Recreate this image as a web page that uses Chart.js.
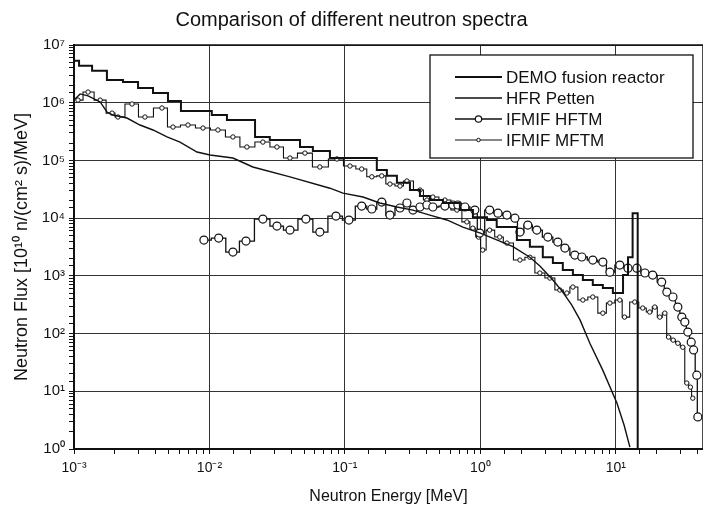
<!DOCTYPE html>
<html>
<head>
<meta charset="utf-8">
<title>Comparison of different neutron spectra</title>
<script src="https://cdn.jsdelivr.net/npm/chart.js@4.4.1/dist/chart.umd.min.js"></script>
<style>
  html, body { margin: 0; padding: 0; background: #fff; }
  #wrap { width: 703px; height: 508px; position: relative; }
</style>
</head>
<body>
<div id="wrap"><canvas id="spectraChart"></canvas></div>
<script>
// === Data (energy in MeV, flux in 10^10 n/(cm^2 s)/MeV) ===

// DEMO fusion reactor: histogram, value holds from this edge to the next one
const demoEnergy = [0.001, 0.00109, 0.00136, 0.00175, 0.0023, 0.00297, 0.00383, 0.00494, 0.00616, 0.0104,
  0.01346, 0.0217, 0.0279, 0.0466, 0.058, 0.0775, 0.172, 0.204, 0.242, 0.302,
  0.358, 0.424, 0.529, 0.706, 0.881, 1.12, 1.32, 1.86, 2.32, 2.89,
  3.43, 4.06, 4.82, 5.71, 6.76, 8.02, 9.51, 11.3, 12.3, 13.3, 14.5];
const demoFlux = [5.35e6, 4.38e6, 3.59e6, 2.47e6, 2.28e6, 1.8e6, 1.47e6, 1.07e6, 7.18e5, 6.12e5,
  5.01e5, 2.55e5, 2.26e5, 1.71e5, 1.46e5, 1.1e5, 6.8e4, 5.4e4, 4.1e4, 3.07e4,
  2.42e4, 2.06e4, 1.83e4, 1.38e4, 1.04e4, 9.3e3, 7.0e3, 4.2e3, 3.2e3, 2.1e3,
  1.67e3, 1.26e3, 1.03e3, 845, 693, 615, 504, 1.03e3, 2.1e3, 1.22e4, 1];

// HFR Petten: continuous curve
const hfrEnergy = [0.001, 0.00111, 0.00127, 0.00156, 0.00175, 0.00194, 0.00246, 0.00307, 0.00383, 0.00486,
  0.00606, 0.00809, 0.0101, 0.0149, 0.0209, 0.0393, 0.0775, 0.0967, 0.136, 0.181,
  0.242, 0.318, 0.424, 0.566, 0.743, 1.0, 1.32, 1.74, 2.32, 2.75,
  3.43, 4.06, 4.73, 5.45, 6.43, 8.02, 10.2, 11.5, 12.7];
const hfrFlux = [1.11e6, 1.42e6, 1.31e6, 1.03e6, 6.9e5, 6.12e5, 5.43e5, 4.11e5, 3.37e5, 2.55e5,
  2.08e5, 1.4e5, 1.24e5, 1.1e5, 7.7e4, 5.2e4, 3.3e4, 2.72e4, 2.32e4, 1.83e4,
  1.56e4, 1.38e4, 1.13e4, 9.3e3, 7.0e3, 5.5e3, 4.2e3, 3.2e3, 2.1e3, 1.48e3,
  845, 524, 312, 171, 68, 23, 6.2, 2.6, 1.08];

// IFMIF HFTM: bin centres
const hftmEnergy = [0.0091, 0.0117, 0.0149, 0.0186, 0.0248, 0.0315, 0.0393, 0.0515, 0.0653, 0.0859,
  0.107, 0.133, 0.158, 0.187, 0.215, 0.255, 0.287, 0.318, 0.358, 0.403,
  0.446, 0.547, 0.627, 0.682, 0.769, 0.91, 0.99, 1.17, 1.35, 1.57,
  1.8, 1.96, 2.24, 2.61, 3.15, 3.73, 4.21, 4.98, 5.61, 6.76,
  8.02, 9.04, 10.7, 12.3, 14.3, 16.4, 18.7, 21.8, 23.8, 26.4,
  28.7, 30.7, 32.3, 34.0, 36.0, 37.5, 39.6, 40.3];
const hftmFlux = [4170, 4520, 2580, 4010, 9640, 7300, 6220, 9640, 5740, 10860,
  9270, 16200, 14400, 19000, 11300, 15000, 18300, 13800, 15600, 16900,
  15600, 16200, 16900, 16900, 15600, 13800, 5520, 13800, 12200, 11300,
  10000, 5740, 7590, 6220, 4700, 3850, 3030, 2290, 2120, 1880,
  1730, 1160, 1540, 1360, 1360, 1120, 1030, 780, 524, 430,
  288, 193, 158, 106, 71, 52, 19, 3.6];

// IFMIF MFTM: bin centres
const mftmEnergy = [0.00107, 0.00127, 0.00156, 0.00191, 0.00211, 0.00268, 0.00334, 0.00446, 0.00538, 0.00694,
  0.00896, 0.01155, 0.0149, 0.0189, 0.0248, 0.0315, 0.0393, 0.0507, 0.0653, 0.0873,
  0.109, 0.133, 0.158, 0.187, 0.215, 0.255, 0.287, 0.358, 0.403, 0.446,
  0.547, 0.671, 0.795, 0.88, 0.97, 1.04, 1.17, 1.39, 1.57, 1.96,
  2.32, 2.75, 3.26, 3.86, 4.35, 4.82, 5.71, 6.76, 8.02, 9.04,
  10.7, 11.6, 13.8, 15.8, 17.8, 19.4, 21.1, 23.0, 24.5, 26.5,
  28.7, 31.2, 33.4, 35.5, 37.0];
const mftmFlux = [1.11e6, 1.53e6, 1.11e6, 6.6e5, 5.65e5, 9.5e5, 5.65e5, 8.1e5, 3.79e5, 4.11e5,
  3.64e5, 3.37e5, 2.55e5, 1.71e5, 2.08e5, 1.71e5, 1.1e5, 1.34e5, 7.7e4, 1.06e5,
  8.0e4, 7.1e4, 5.2e4, 5.4e4, 3.9e4, 3.6e4, 4.4e4, 3.07e4, 2.06e4, 2.32e4,
  2.06e4, 1.38e4, 8.6e3, 6.7e3, 4.7e3, 2.8e3, 6.2e3, 4.7e3, 3.7e3, 1.88e3,
  2.1e3, 1.12e3, 916, 568, 504, 640, 381, 430, 226, 338,
  381, 193, 352, 277, 236, 288, 193, 226, 87, 77,
  68, 58, 13.9, 11.8, 7.6];

// Tick labels, one per decade
const xTickExponents = [-3, -2, -1, 0, 1];
const xTickLabels = ["10⁻³", "10⁻²", "10⁻¹", "10⁰", "10¹"];
const yTickExponents = [0, 1, 2, 3, 4, 5, 6, 7];
const yTickLabels = ["10⁰", "10¹", "10²", "10³", "10⁴", "10⁵", "10⁶", "10⁷"];

const INK = "#111";
const FONT = "'Liberation Sans', Arial, Helvetica, sans-serif";

// === Helpers ===
function isDecade(v) {
  const e = Math.log10(v);
  return Math.abs(e - Math.round(e)) < 1e-6;
}

function decadeLabel(v, exps, labels) {
  if (!isDecade(v)) return "";
  const i = exps.indexOf(Math.round(Math.log10(v)));
  return i >= 0 ? labels[i] : "";
}

function toPoints(xs, ys) {
  return xs.map((x, i) => ({ x: x, y: ys[i] }));
}

// === Plugin: frame round the plot area ===
const plotFrame = {
  id: "plotFrame",
  afterDatasetsDraw(chart) {
    const { ctx, chartArea: a } = chart;
    ctx.save();
    ctx.strokeStyle = INK;
    ctx.lineWidth = 1.5;
    ctx.strokeRect(a.left, a.top, a.right - a.left, a.bottom - a.top);
    ctx.restore();
  },
};

// === Plugin: boxed legend in the upper right, styled from the datasets ===
const boxLegend = {
  id: "boxLegend",
  afterDraw(chart) {
    const ctx = chart.ctx;
    const bx = 430, by = 55, bw = 263, bh = 103;
    ctx.save();
    ctx.fillStyle = "#fff";
    ctx.fillRect(bx, by, bw, bh);
    ctx.strokeStyle = INK;
    ctx.lineWidth = 1.3;
    ctx.strokeRect(bx, by, bw, bh);
    ctx.font = "17px " + FONT;
    ctx.textBaseline = "middle";
    chart.data.datasets.forEach((ds, i) => {
      const cy = by + 22 + i * 21;
      ctx.strokeStyle = ds.borderColor;
      ctx.lineWidth = ds.borderWidth;
      ctx.beginPath();
      ctx.moveTo(bx + 25, cy);
      ctx.lineTo(bx + 72, cy);
      ctx.stroke();
      if (ds.pointRadius > 0) {
        ctx.beginPath();
        ctx.arc(bx + 48.5, cy, ds.pointRadius * 0.8, 0, Math.PI * 2);
        ctx.fillStyle = "#fff";
        ctx.fill();
        ctx.lineWidth = ds.pointBorderWidth;
        ctx.stroke();
      }
      ctx.fillStyle = INK;
      ctx.fillText(ds.label, bx + 76, cy + 1);
    });
    ctx.restore();
  },
};

// === Build the chart ===
document.addEventListener("DOMContentLoaded", () => {
  const ctx = document.getElementById("spectraChart").getContext("2d");

  new Chart(ctx, {
    type: "line",
    data: {
      datasets: [
        {
          label: "DEMO fusion reactor",
          data: toPoints(demoEnergy, demoFlux),
          borderColor: INK,
          borderWidth: 2,
          pointRadius: 0,
          stepped: "before",
        },
        {
          label: "HFR Petten",
          data: toPoints(hfrEnergy, hfrFlux),
          borderColor: INK,
          borderWidth: 1.4,
          pointRadius: 0,
        },
        {
          label: "IFMIF HFTM",
          data: toPoints(hftmEnergy, hftmFlux),
          borderColor: INK,
          borderWidth: 1.3,
          stepped: "middle",
          pointRadius: 4,
          pointBackgroundColor: "#fff",
          pointBorderColor: INK,
          pointBorderWidth: 1.2,
        },
        {
          label: "IFMIF MFTM",
          data: toPoints(mftmEnergy, mftmFlux),
          borderColor: INK,
          borderWidth: 1.1,
          stepped: "middle",
          pointRadius: 2.2,
          pointBackgroundColor: "#fff",
          pointBorderColor: INK,
          pointBorderWidth: 1,
        },
      ],
    },
    options: {
      responsive: true,
      maintainAspectRatio: false,
      devicePixelRatio: 1,
      animation: false,
      layout: { padding: 0, autoPadding: false }, // plot runs off the right edge as in the scan
      font: { family: FONT },
      scales: {
        x: {
          type: "logarithmic",
          bounds: "data",
          min: 0.001,
          max: 44,
          afterFit: (s) => {
            s.height = 59;
            s.paddingRight = 0;
          },
          grid: {
            color: (c) => (c.tick && isDecade(c.tick.value) ? "#333" : "rgba(0,0,0,0)"),
            lineWidth: 1,
            tickColor: INK,
            tickLength: 5,
          },
          border: { display: true, color: INK, width: 2 },
          ticks: {
            autoSkip: false,
            maxRotation: 0,
            padding: 6,
            color: INK,
            font: { family: FONT, size: 14 },
            callback: (v) => decadeLabel(v, xTickExponents, xTickLabels),
          },
          title: {
            display: true,
            text: "Neutron Energy [MeV]",
            color: INK,
            font: { family: FONT, size: 16 },
            padding: { top: 0, bottom: 2 },
          },
        },
        y: {
          type: "logarithmic",
          min: 1,
          max: 1e7,
          afterFit: (s) => { s.width = 74; },
          grid: {
            color: (c) => (c.tick && isDecade(c.tick.value) ? "#333" : "rgba(0,0,0,0)"),
            lineWidth: 1,
            tickColor: INK,
            tickLength: 5,
          },
          border: { display: true, color: INK, width: 2 },
          ticks: {
            autoSkip: false,
            padding: 4,
            color: INK,
            font: { family: FONT, size: 15 },
            callback: (v) => decadeLabel(v, yTickExponents, yTickLabels),
          },
          title: {
            display: true,
            text: "Neutron Flux [10¹⁰ n/(cm² s)/MeV]",
            color: INK,
            font: { family: FONT, size: 18 },
            padding: { top: 11, bottom: 0 },
          },
        },
      },
      plugins: {
        legend: { display: false },
        tooltip: { enabled: false },
        title: {
          display: true,
          text: "Comparison of different neutron spectra",
          color: INK,
          font: { family: FONT, size: 20, weight: "normal" },
          padding: { top: 8, bottom: 13 },
        },
      },
    },
    plugins: [plotFrame, boxLegend],
  });
});
</script>
</body>
</html>
